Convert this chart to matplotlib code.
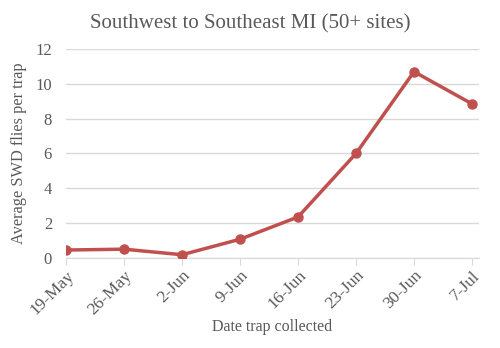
import matplotlib
matplotlib.use("Agg")
import matplotlib.pyplot as plt

# Dates de collecte et moyennes de mouches SWD par piège
dates = ["19-May", "26-May", "2-Jun", "9-Jun", "16-Jun", "23-Jun", "30-Jun", "7-Jul"]
flies = [0.45, 0.5, 0.18, 1.07, 2.35, 6.0, 10.7, 8.85]

plt.rcParams["font.family"] = ["Liberation Serif", "DejaVu Serif"]
grey = "#595959"

fig = plt.figure(figsize=(5, 3.48), dpi=100)
ax = fig.add_axes([0.132, 0.259, 0.826, 0.6])

x = list(range(len(dates)))
ax.plot(x, flies, color="#C0504D", linewidth=2.5, marker="o", markersize=6.5, zorder=3)

ax.set_ylim(0, 12)
ax.set_yticks(range(0, 13, 2))
ax.set_xlim(0, 7.12)
ax.set_xticks(x)
ax.set_xticklabels(dates, rotation=45, ha="right", rotation_mode="anchor")
ax.grid(axis="y", color="#D9D9D9", linewidth=1)
ax.set_axisbelow(True)

for s in ["top", "right", "left"]:
    ax.spines[s].set_visible(False)
ax.spines["bottom"].set_color("#D9D9D9")
ax.tick_params(axis="y", length=0, colors=grey, labelsize=12, pad=10)
ax.tick_params(axis="x", length=5, color="#D9D9D9", labelcolor=grey, labelsize=12.5, pad=2)

ax.set_xlabel("Date trap collected", color=grey, fontsize=11.5, labelpad=1)
ax.set_ylabel("Average SWD flies per trap", color=grey, fontsize=11.8, labelpad=6)
fig.suptitle("Southwest to Southeast MI (50+ sites)", x=0.5, y=0.96, color=grey, fontsize=15)

fig.savefig("out.png", dpi=100)
